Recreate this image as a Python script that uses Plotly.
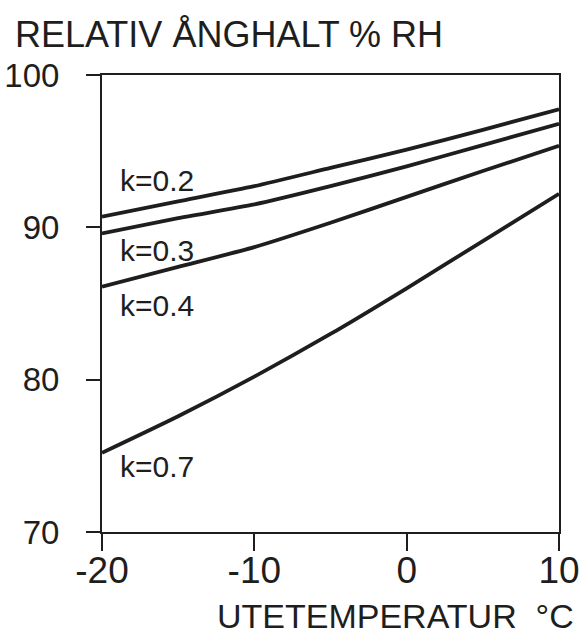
import plotly.graph_objects as go

# Outdoor temperature (°C) sample points
temps = [-20, -15, -10, -5, 0, 5, 10]

# Relative humidity (%RH) for each k value
rh_k02 = [90.7, 91.7, 92.7, 93.9, 95.1, 96.4, 97.75]
rh_k03 = [89.6, 90.6, 91.5, 92.7, 94.0, 95.4, 96.8]
rh_k04 = [86.1, 87.4, 88.7, 90.3, 92.0, 93.7, 95.35]
rh_k07 = [75.2, 77.6, 80.2, 83.0, 86.0, 89.1, 92.2]

series = [("k=0.2", rh_k02), ("k=0.3", rh_k03), ("k=0.4", rh_k04), ("k=0.7", rh_k07)]

# Curve label positions (temperature, %RH)
label_text = ["k=0.2", "k=0.3", "k=0.4", "k=0.7"]
label_x = [-18.95, -18.95, -18.95, -18.95]
label_y = [93.1, 88.5, 84.9, 74.3]

x_ticks = [-20, -10, 0, 10]
y_ticks = [70, 80, 90, 100]

ink = "#1e1e1e"
font_family = "Liberation Sans, Arial, sans-serif"

fig = go.Figure()
for name, vals in series:
    fig.add_trace(go.Scatter(
        x=temps, y=vals, mode="lines", name=name,
        line=dict(color=ink, width=3.8, shape="spline", smoothing=0.6),
        showlegend=False, hoverinfo="skip",
    ))

for t, lx, ly in zip(label_text, label_x, label_y):
    fig.add_annotation(x=lx, y=ly, text=t, showarrow=False,
                       xanchor="left", yanchor="middle",
                       font=dict(family=font_family, size=30, color=ink))

# Axis titles
fig.add_annotation(xref="paper", yref="paper", x=-0.195, y=1.0886,
                   text="RELATIV ÅNGHALT % RH", showarrow=False,
                   xanchor="left", yanchor="middle",
                   font=dict(family=font_family, size=36, color=ink))
fig.add_annotation(xref="paper", yref="paper", x=1.037, y=-0.184,
                   text="UTETEMPERATUR  °C", showarrow=False,
                   xanchor="right", yanchor="middle",
                   font=dict(family=font_family, size=34, color=ink))

fig.update_xaxes(
    range=[-20, 10], tickvals=x_ticks, ticktext=[str(v) for v in x_ticks],
    ticks="outside", ticklen=17, tickwidth=2, tickcolor=ink,
    showline=True, linewidth=2, linecolor=ink, mirror=True,
    showgrid=False, zeroline=False, ticklabelstandoff=-12, automargin=False,
    ticklabeloverflow="allow",
    tickfont=dict(family=font_family, size=37, color=ink),
)
fig.update_yaxes(
    range=[70, 100], tickvals=y_ticks, ticktext=[str(v) for v in y_ticks],
    ticks="outside", ticklen=14, tickwidth=2, tickcolor=ink,
    showline=True, linewidth=2, linecolor=ink, mirror=True,
    showgrid=False, zeroline=False, ticklabelstandoff=20, automargin=False,
    ticklabeloverflow="allow",
    tickfont=dict(family=font_family, size=33, color=ink),
)

fig.update_layout(
    width=580, height=636,
    margin=dict(l=102, r=21, t=75, b=104),
    paper_bgcolor="white", plot_bgcolor="white",
)

fig.write_html("out.html")
